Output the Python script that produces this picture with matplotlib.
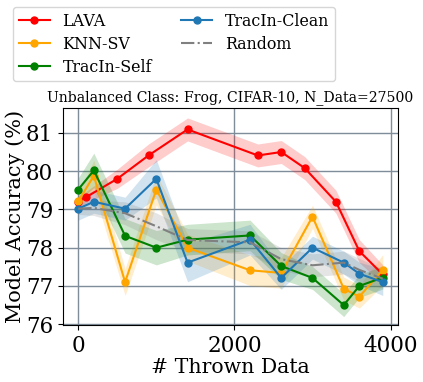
import matplotlib
matplotlib.use("Agg")
import matplotlib.pyplot as plt
import numpy as np

plt.rcParams['font.family'] = ['DejaVu Serif']

lava_x = [0, 100, 500, 900, 1400, 2300, 2600, 2900, 3300, 3600, 3900]
lava_y = [79.2, 79.32, 79.8, 80.41, 81.09, 80.41, 80.5, 80.08, 79.2, 77.91, 77.3]
lava_s = [0.15, 0.15, 0.25, 0.3, 0.3, 0.3, 0.3, 0.3, 0.3, 0.3, 0.25]

base_x = [0, 200, 600, 1000, 1400, 2200, 2600, 3000, 3400, 3600, 3900]
knn_y = [79.21, 79.88, 77.1, 79.52, 78.0, 77.41, 77.34, 78.81, 76.93, 76.72, 77.42]
knn_s = [0.2, 0.4, 0.35, 0.4, 0.35, 0.4, 0.4, 0.3, 0.3, 0.3, 0.4]
self_y = [79.52, 80.02, 78.31, 78.0, 78.21, 78.32, 77.52, 77.21, 76.5, 77.0, 77.22]
self_s = [0.3, 0.45, 0.45, 0.45, 0.4, 0.4, 0.35, 0.3, 0.3, 0.3, 0.3]
clean_y = [79.02, 79.2, 79.02, 79.8, 77.61, 78.21, 77.21, 78.0, 77.61, 77.32, 77.1]
clean_s = [0.3, 0.3, 0.3, 0.5, 0.5, 0.4, 0.3, 0.3, 0.3, 0.3, 0.35]
rand_y = [79.02, 79.04, 78.9, 78.56, 78.2, 78.14, 77.7, 77.54, 77.61, 77.42, 77.19]
rand_s = [0.15, 0.2, 0.3, 0.35, 0.3, 0.3, 0.3, 0.3, 0.3, 0.3, 0.25]

W, H, DPI = 423, 382, 100
fig = plt.figure(figsize=(W / DPI, H / DPI), dpi=DPI)
ax = fig.add_axes([63 / W, 1 - 325 / H, (398 - 63) / W, (325 - 108) / H])

series = [
    ("LAVA", lava_x, lava_y, lava_s, "red", "-", "o"),
    ("KNN-SV", base_x, knn_y, knn_s, "orange", "-", "o"),
    ("TracIn-Self", base_x, self_y, self_s, "green", "-", "o"),
    ("TracIn-Clean", base_x, clean_y, clean_s, "tab:blue", "-", "o"),
    ("Random", base_x, rand_y, rand_s, "gray", "-.", None),
]
for name, x, y, s, c, ls, m in series:
    x = np.array(x); y = np.array(y); s = np.array(s)
    ax.plot(x, y, color=c, linestyle=ls, marker=m, markersize=5, linewidth=1.5, label=name)
    ax.fill_between(x, y - s, y + s, color=c, alpha=0.2, linewidth=0)

ax.set_ylim(75.98, 81.65)
ax.set_xlim(-195, 4095)
ax.set_xticks([0, 2000, 4000])
ax.set_yticks([76, 77, 78, 79, 80, 81])
ax.grid(True, color='#7f8c99', linewidth=1)
ax.set_axisbelow(True)

fig.canvas.draw()
r = fig.canvas.get_renderer()


def fit_size(text, target_px, base=12):
    t = fig.text(0, 0, text, fontsize=base)
    w = t.get_window_extent(r).width
    t.remove()
    return base * target_px / w


tick_fs = fit_size("2000", 55)
title_fs = fit_size("Unbalanced Class: Frog, CIFAR-10, N_Data=27500", 365)
xl_fs = fit_size("# Thrown Data", 157)
yl_fs = fit_size("Model Accuracy (%)", 213)
leg_fs = fit_size("TracIn-Clean", 104)

ax.tick_params(labelsize=tick_fs)
ax.set_xlabel("# Thrown Data", fontsize=xl_fs, labelpad=1)
ax.set_ylabel("Model Accuracy (%)", fontsize=yl_fs, labelpad=1)
ax.set_title("Unbalanced Class: Frog, CIFAR-10, N_Data=27500", fontsize=title_fs, pad=5)

em = leg_fs * DPI / 72.0
fig.legend(loc='upper left', bbox_to_anchor=(13 / W, 1 - 7 / H), borderaxespad=0,
           ncol=2, fontsize=leg_fs,
           handlelength=31 / em, handletextpad=13 / em, columnspacing=29 / em,
           labelspacing=0.38, borderpad=0.35)

fig.savefig("out.png", dpi=DPI)
